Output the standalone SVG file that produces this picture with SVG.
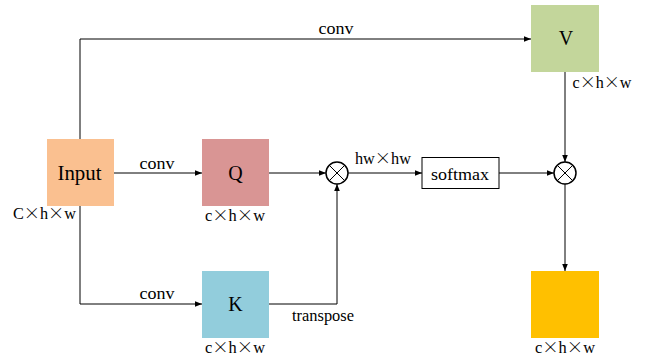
<svg xmlns="http://www.w3.org/2000/svg" width="655" height="362" viewBox="0 0 655 362">
  <defs>
    <marker id="arr" viewBox="0 0 10 10" refX="10" refY="5" markerWidth="7" markerHeight="7" orient="auto" markerUnits="userSpaceOnUse">
      <path d="M0,1 L10,5 L0,9 z" fill="#000"/>
    </marker>
  </defs>
  <style>
    text { font-family: "Liberation Serif", "Times New Roman", Times, "DejaVu Serif", serif; fill: #000; }
    .x { font-family: "Noto Sans CJK SC", "DejaVu Sans", sans-serif; font-weight: 300; }
    .lbl { font-size: 16px; text-anchor: middle; }
    .big { font-size: 20px; text-anchor: middle; }
    .ln { fill: none; stroke: #000; stroke-width: 1; }
    .op { fill: #fff; stroke: #000; stroke-width: 1.5; }
  </style>
  <rect width="655" height="362" fill="#fff"/>

  <g id="connectors">
    <polyline class="ln" points="80,139 80,39 531,39" marker-end="url(#arr)"/>
    <line class="ln" x1="114" y1="173" x2="202" y2="173" marker-end="url(#arr)"/>
    <polyline class="ln" points="80,206 80,304 202,304" marker-end="url(#arr)"/>
    <polyline class="ln" points="269,304 337,304 337,184" marker-end="url(#arr)"/>
    <line class="ln" x1="269" y1="173" x2="326" y2="173" marker-end="url(#arr)"/>
    <line class="ln" x1="348" y1="173" x2="422" y2="173" marker-end="url(#arr)"/>
    <line class="ln" x1="499" y1="173" x2="554" y2="173" marker-end="url(#arr)"/>
    <line class="ln" x1="565" y1="72" x2="565" y2="162" marker-end="url(#arr)"/>
    <line class="ln" x1="565" y1="184" x2="565" y2="271" marker-end="url(#arr)"/>
    <text class="lbl" x="336" y="34" textLength="35" lengthAdjust="spacingAndGlyphs">conv</text>
    <text class="lbl" x="157" y="169" textLength="35" lengthAdjust="spacingAndGlyphs">conv</text>
    <text class="lbl" x="157" y="299" textLength="35" lengthAdjust="spacingAndGlyphs">conv</text>
    <text class="lbl" x="323" y="321" textLength="62" lengthAdjust="spacingAndGlyphs">transpose</text>
    <text class="lbl" x="383" y="164" textLength="56" lengthAdjust="spacingAndGlyphs">hw<tspan class="x">×</tspan>hw</text>
  </g>

  <g id="input">
    <rect x="47" y="139" width="67" height="67" fill="#fac090"/>
    <text class="big" x="79.5" y="180" textLength="44" lengthAdjust="spacingAndGlyphs">Input</text>
    <text class="lbl" x="44.5" y="219" textLength="63" lengthAdjust="spacingAndGlyphs">C<tspan class="x">×</tspan>h<tspan class="x">×</tspan>w</text>
  </g>

  <g id="q">
    <rect x="202" y="139" width="67" height="67" fill="#d99594"/>
    <text class="big" x="235.5" y="180">Q</text>
    <text class="lbl" x="235" y="220.5" textLength="60" lengthAdjust="spacingAndGlyphs">c<tspan class="x">×</tspan>h<tspan class="x">×</tspan>w</text>
  </g>

  <g id="k">
    <rect x="202" y="271" width="67" height="67" fill="#92cddc"/>
    <text class="big" x="235.5" y="311">K</text>
    <text class="lbl" x="235" y="353" textLength="60" lengthAdjust="spacingAndGlyphs">c<tspan class="x">×</tspan>h<tspan class="x">×</tspan>w</text>
  </g>

  <g id="v">
    <rect x="531" y="5" width="68" height="67" fill="#c3d69b"/>
    <text class="big" x="566" y="45">V</text>
    <text class="lbl" x="602" y="88" textLength="59" lengthAdjust="spacingAndGlyphs">c<tspan class="x">×</tspan>h<tspan class="x">×</tspan>w</text>
  </g>

  <g id="output">
    <rect x="531" y="271" width="68" height="67" fill="#ffc000"/>
    <text class="lbl" x="565" y="353" textLength="60" lengthAdjust="spacingAndGlyphs">c<tspan class="x">×</tspan>h<tspan class="x">×</tspan>w</text>
  </g>

  <g id="softmax">
    <rect x="422" y="157.5" width="77" height="31" fill="#fff" stroke="#000" stroke-width="1"/>
    <text class="lbl" x="460" y="180" font-size="17" textLength="58" lengthAdjust="spacingAndGlyphs">softmax</text>
  </g>

  <g id="mul1">
    <circle class="op" cx="337" cy="173" r="11"/>
    <path class="ln" d="M329.2,165.2 L344.8,180.8 M344.8,165.2 L329.2,180.8"/>
  </g>

  <g id="mul2">
    <circle class="op" cx="565" cy="173" r="11"/>
    <path class="ln" d="M557.2,165.2 L572.8,180.8 M572.8,165.2 L557.2,180.8"/>
  </g>
</svg>
